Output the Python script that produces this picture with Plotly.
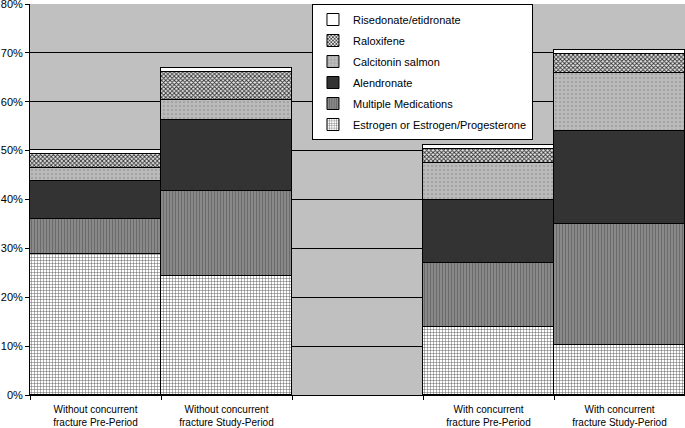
import plotly.graph_objects as go

categories = ["Without concurrent<br>fracture Pre-Period",
              "Without concurrent<br>fracture Study-Period",
              " ",
              "With concurrent<br>fracture Pre-Period",
              "With concurrent<br>fracture Study-Period"]

estrogen = [28.9, 24.4, None, 13.9, 10.3]
multiple = [7.2, 17.3, None, 13.1, 24.6]
alendronate = [7.6, 14.5, None, 12.9, 19.1]
calcitonin = [2.65, 4.1, None, 7.6, 11.8]
raloxifene = [2.9, 5.7, None, 2.9, 3.9]
risedonate = [0.85, 1.0, None, 0.8, 0.9]

series = [
    ("Estrogen or Estrogen/Progesterone", estrogen, dict(shape="+", bgcolor="white", fgcolor="#606060", size=3, solidity=0.3)),
    ("Multiple Medications", multiple, dict(shape="|", bgcolor="#8c8c8c", fgcolor="#6a6a6a", size=3, solidity=0.4)),
    ("Alendronate", alendronate, None),
    ("Calcitonin salmon", calcitonin, dict(shape=".", bgcolor="#bcbcbc", fgcolor="#a4a4a4", size=4, solidity=0.3)),
    ("Raloxifene", raloxifene, dict(shape="x", bgcolor="#e8e8e8", fgcolor="#303030", size=3, solidity=0.5)),
    ("Risedonate/etidronate", risedonate, None),
]
solid = {"Alendronate": "#333333", "Risedonate/etidronate": "white"}

fig = go.Figure()
n = len(series)
for i, (name, vals, pat) in enumerate(series):
    marker = dict(line=dict(color="black", width=1))
    if pat is None:
        marker["color"] = solid[name]
    else:
        marker["color"] = pat["bgcolor"]
        marker["pattern"] = dict(fillmode="replace", **pat)
    fig.add_trace(go.Bar(x=categories, y=vals, name=name, marker=marker,
                         legendgroup=name, legendrank=n - i))

fig.update_layout(
    width=685, height=428,
    barmode="stack", bargap=0,
    paper_bgcolor="white", plot_bgcolor="#c0c0c0",
    margin=dict(l=30, r=0, t=4, b=33, autoexpand=False),
    font=dict(family="Liberation Sans, Arial, sans-serif", color="black", size=11),
    legend=dict(x=0.4305, y=1, xanchor="left", yanchor="top",
                bgcolor="white", bordercolor="black", borderwidth=1,
                traceorder="grouped", tracegroupgap=2,
                font=dict(size=11)),
    xaxis=dict(showline=True, linecolor="black", linewidth=1, ticks="outside",
               tickson="boundaries", ticklen=4, tickcolor="black", automargin=False,
               ticklabelstandoff=5,
               tickfont=dict(size=10), showgrid=False),
    yaxis=dict(range=[0, 80], dtick=10, ticksuffix="%", showgrid=True,
               gridcolor="black", gridwidth=1, showline=True, linecolor="black",
               ticks="outside", ticklen=4, tickcolor="black", automargin=False,
               ticklabeloverflow="allow",
               tickfont=dict(size=11), zeroline=False),
)
fig.write_html("out.html", config={"displayModeBar": False},
               post_script="document.body.style.margin='0';")
